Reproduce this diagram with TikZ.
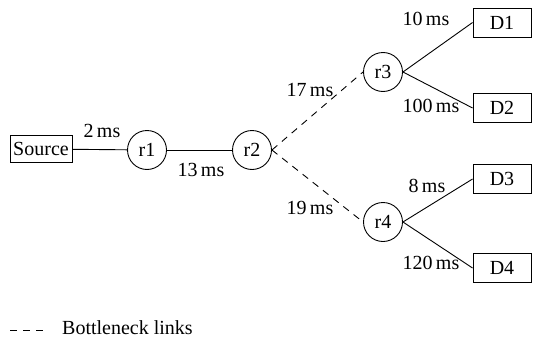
\documentclass[tikz,border=0pt]{standalone}
\usepackage{fontspec}
\setmainfont{Liberation Serif}
\newfontfamily\labelfont{Liberation Serif}
\begin{document}
\begin{tikzpicture}[x=1pt,y=-1pt,
  font=\labelfont\fontsize{20}{24}\selectfont,
  router/.style={draw,circle,line width=0.9pt,minimum size=39pt,inner sep=0pt},
  hostbox/.style={draw,rectangle,line width=0.9pt,minimum width=58pt,minimum height=29pt,inner sep=0pt},
  link/.style={line width=0.9pt},
  bottleneck/.style={line width=0.9pt,dash pattern=on 7pt off 6pt},
  lbl/.style={inner sep=0pt}]
\useasboundingbox (0,0) rectangle (537,345);

% nodes
\node[hostbox,minimum width=62pt,minimum height=27pt] (src) at (41,149) {Source};
\node[router] (r1) at (147,150) {r1};
\node[router] (r2) at (252,150) {r2};
\node[router] (r3) at (383,72) {r3};
\node[router] (r4) at (383,222) {r4};
\node[hostbox] (d1) at (502,22.5) {D1};
\node[hostbox] (d2) at (502,108) {D2};
\node[hostbox] (d3) at (502,179) {D3};
\node[hostbox] (d4) at (502,268) {D4};

% links
\draw[link] (src) -- (r1);
\draw[link] (r1) -- (r2);
\draw[bottleneck] (r2.east) -- (r3.west);
\draw[bottleneck] (r2.east) -- (r4.west);
\draw[link] (r3.east) -- (d1.west);
\draw[link] (r3.east) -- (d2.west);
\draw[link] (r4.east) -- (d3.west);
\draw[link] (r4.east) -- (d4.west);

% delays
\node[lbl] (l1) at (102,131) {2\,ms};
\node[lbl] (l2) at (201,170) {13\,ms};
\node[lbl] (l3) at (310,90) {17\,ms};
\node[lbl] (l4) at (310,208) {19\,ms};
\node[lbl] (l5) at (426,19) {10\,ms};
\node[lbl] (l6) at (431,106) {100\,ms};
\node[lbl] (l7) at (427,186) {8\,ms};
\node[lbl] (l8) at (431,263) {120\,ms};

% legend
\coordinate (ka) at (10,330);
\coordinate (kb) at (43,330);
\draw[bottleneck] (ka) -- (kb);
\node[lbl,anchor=west] (key) at (62,328) {Bottleneck links};
\end{tikzpicture}
\end{document}
